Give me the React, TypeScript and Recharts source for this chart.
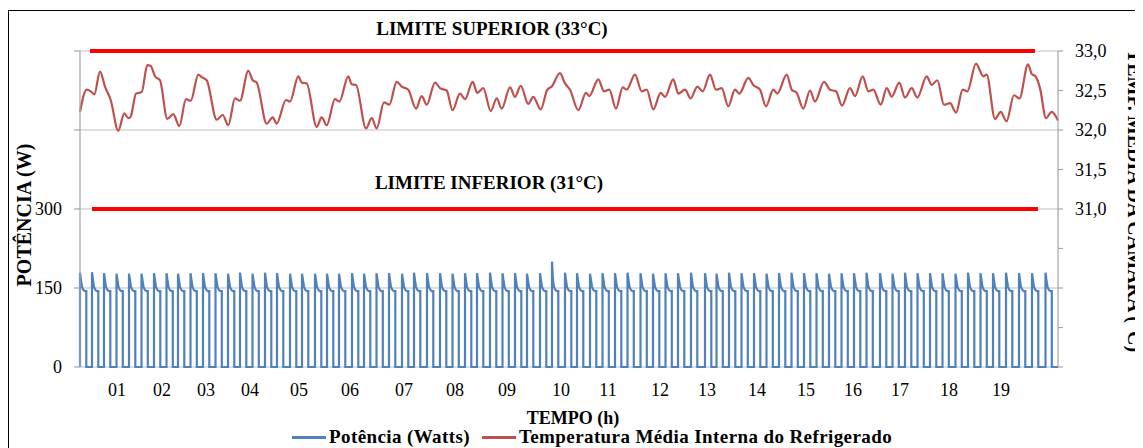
import { ComposedChart, Line, XAxis, YAxis, CartesianGrid, ReferenceLine, Legend } from 'recharts';

// rótulos do eixo do tempo e o registro em que cada hora cai
const horas = ['01', '02', '03', '04', '05', '06', '07', '08', '09', '10', '11', '12', '13', '14', '15', '16', '17', '18', '19'];
const registroHora = [37, 82, 126, 170, 219, 270, 324, 375, 427, 481, 528, 580, 627, 677, 726, 773, 820, 869, 921];
const ultimoRegistro = 978;

// início de cada ciclo do compressor (registro) e pico de potência (W)
const inicioCiclo = [
  0, 12, 24, 36.5, 49, 61.5, 74, 86.5, 98, 110.5, 123, 135.5, 148, 160, 172.5, 185, 197, 210, 222, 235,
  247, 259, 272, 284, 296.5, 309, 322, 334, 347, 360, 372.5, 385, 397, 410, 422.5, 435, 447, 460, 472, 485,
  497, 510, 522.5, 535, 547.5, 560.5, 573, 585.5, 598, 611, 625, 636.5, 649, 661.5, 674, 686.5, 699, 711.5,
  724, 736.5, 749, 761.5, 774, 786.5, 800, 812.5, 825, 837.5, 850, 862.5, 875.5, 888, 900.5, 913, 926, 939,
  952, 965.5,
];
const picoCiclo = [
  179, 180, 178, 177, 177, 177, 178, 178, 177, 178, 178, 178, 177, 179, 177, 179, 178, 177, 177, 177,
  177, 177, 178, 177, 178, 178, 177, 179, 178, 178, 177, 178, 178, 179, 178, 178, 177, 178, 200, 179,
  178, 177, 178, 178, 179, 178, 177, 178, 178, 179, 178, 177, 179, 178, 178, 177, 178, 179, 178, 178,
  177, 178, 178, 179, 178, 177, 179, 178, 178, 178, 177, 179, 178, 178, 179, 178, 178, 179,
];
// queda após a partida: deslocamento (registros) e potência (W)
const quedaDesloc = [1, 2, 3.5, 5];
const quedaWatts = [165, 152, 146, 144];
const duracaoLigado = 6.3;

// temperatura média interna [registro, °C]
const temperatura: [number, number][] = [
  [0, 32.23], [6.7, 32.51], [11.7, 32.48], [14.3, 32.45], [20, 32.74], [25, 32.55], [30.7, 32.38], [38.3, 31.99],
  [44.3, 32.21], [48.3, 32.15], [50.7, 32.17], [56, 32.46], [61.7, 32.48], [67.3, 32.82], [70.7, 32.81], [75, 32.68],
  [80, 32.63], [87.3, 32.14], [93.3, 32.2], [99.3, 32.05], [106, 32.39], [110.7, 32.37], [118.3, 32.7], [121.7, 32.67],
  [126.7, 32.63], [136.7, 32.13], [142.7, 32.19], [148.3, 32.06], [155, 32.4], [160, 32.37], [168.3, 32.75], [172.7, 32.63],
  [176.7, 32.6], [186.7, 32.08], [192.7, 32.16], [196.7, 32.08], [206, 32.38], [210, 32.36], [218.3, 32.68], [221.7, 32.6],
  [226.7, 32.59], [236.7, 32.04], [241.7, 32.16], [246.7, 32.06], [255, 32.39], [259.3, 32.36], [268.3, 32.68], [271.7, 32.58],
  [276, 32.57], [286, 32.02], [291.7, 32.15], [296.7, 32.02], [304, 32.35], [309.3, 32.32], [316.7, 32.61], [321.7, 32.55],
  [328.3, 32.51], [336, 32.27], [341.7, 32.43], [346.7, 32.32], [355, 32.6], [360, 32.53], [366.7, 32.5], [372.5, 32.25],
  [380, 32.46], [385, 32.39], [392.7, 32.61], [397.3, 32.47], [403.3, 32.53], [410.7, 32.24], [416.7, 32.4], [421.7, 32.27],
  [430, 32.54], [435, 32.42], [440.7, 32.56], [448.3, 32.33], [453.3, 32.42], [460.7, 32.26], [467.3, 32.51], [471.7, 32.55],
  [480, 32.72], [485, 32.59], [490, 32.51], [498.3, 32.25], [506, 32.47], [509.3, 32.43], [518.3, 32.64], [524, 32.49],
  [529.3, 32.51], [536, 32.27], [542.7, 32.54], [546.7, 32.51], [555, 32.7], [561.7, 32.49], [566.7, 32.51], [573.3, 32.26],
  [580.7, 32.47], [585, 32.42], [593.3, 32.64], [598.3, 32.46], [605, 32.51], [610.7, 32.4], [617.3, 32.55], [622.7, 32.49],
  [630, 32.7], [636, 32.51], [641.7, 32.53], [648.3, 32.3], [655, 32.51], [659.3, 32.46], [668.3, 32.66], [673.3, 32.57],
  [680, 32.51], [686, 32.3], [693.3, 32.51], [697.3, 32.46], [706.7, 32.7], [711.7, 32.51], [716.7, 32.47], [723.3, 32.27],
  [730, 32.5], [735, 32.36], [744, 32.61], [750, 32.51], [756, 32.49], [762, 32.31], [770, 32.53], [775, 32.43],
  [782.7, 32.68], [788.3, 32.49], [793.3, 32.51], [800.7, 32.32], [806.7, 32.53], [811.7, 32.42], [819.3, 32.6], [825, 32.41],
  [831.7, 32.53], [837.3, 32.41], [846.7, 32.68], [851.7, 32.57], [857.3, 32.63], [864, 32.32], [870, 32.34], [876, 32.22],
  [882.7, 32.51], [887.3, 32.49], [896, 32.84], [903.3, 32.68], [906.7, 32.7], [915, 32.14], [920.7, 32.23], [926.5, 32.11],
  [934, 32.44], [939.5, 32.4], [948, 32.83], [951.7, 32.71], [955.5, 32.68], [960, 32.53], [966, 32.15], [971.7, 32.23],
  [978, 32.12],
];

// limites de temperatura e trecho (registros) em que são traçados
const limiteSuperior = 33;
const limiteInferior = 31;
const trechoSuperior = [10, 955];
const trechoInferior = [12, 958];

const potenciaData: { reg: number; w: number }[] = [];
inicioCiclo.forEach((ini, i) => {
  potenciaData.push({ reg: ini, w: 0 });
  potenciaData.push({ reg: ini, w: picoCiclo[i] });
  quedaDesloc.forEach((d, k) => potenciaData.push({ reg: ini + d, w: quedaWatts[k] }));
  potenciaData.push({ reg: ini + duracaoLigado, w: quedaWatts[quedaWatts.length - 1] });
  potenciaData.push({ reg: ini + duracaoLigado, w: 0 });
});
potenciaData.push({ reg: ultimoRegistro, w: 0 });

const temperaturaData = temperatura.map(([reg, t]) => ({ reg, t }));

const FONTE = '"Liberation Serif", "Times New Roman", serif';
const AZUL = '#4F81BD';
const VERMELHO = '#C0504D';
const GRADE = '#BFBFBF';

// texto solto (títulos e rótulos dos limites); "giro" em graus
function Titulo(props: any) {
  const { px, py, giro = 0, texto, tam = 18 } = props;
  return (
    <text
      x={px}
      y={py}
      transform={giro ? `rotate(${giro} ${px} ${py})` : undefined}
      textAnchor="middle"
      dominantBaseline="central"
      fontFamily={FONTE}
      fontSize={tam}
      fontWeight="bold"
      fill="#000"
    >
      {texto}
    </text>
  );
}

function Legenda(props: any) {
  const { payload = [] } = props;
  const estiloTexto = { fontFamily: FONTE, fontWeight: 700, fontSize: 19, color: '#000', letterSpacing: 0.4 };
  return (
    <div style={{ display: 'flex', alignItems: 'center', whiteSpace: 'nowrap', ...estiloTexto }}>
      {payload.map((item: any) => (
        <span key={item.value} style={{ display: 'flex', alignItems: 'center', marginRight: 12, ...estiloTexto }}>
          <span style={{ display: 'inline-block', width: 34, height: 3, background: item.color, marginRight: 3 }} />
          <span style={estiloTexto}>{item.value}</span>
        </span>
      ))}
    </div>
  );
}

export default function App() {
  return (
    <div style={{ position: 'relative', width: 1135, height: 440, overflow: 'hidden', background: '#fff' }}>
      <div style={{ position: 'absolute', left: 0, top: 2, width: 1160, height: 460, border: '1.5px solid #000', boxSizing: 'border-box' }} />
      <ComposedChart width={1135} height={440} margin={{ top: 43, right: 0, bottom: 0, left: 0 }}>
        <CartesianGrid yAxisId="pot" vertical={false} stroke={GRADE} strokeWidth={1.2} />
        <XAxis
          dataKey="reg"
          type="number"
          domain={[0, ultimoRegistro]}
          ticks={registroHora}
          tickFormatter={(v: number) => horas[registroHora.indexOf(v)]}
          allowDuplicatedCategory
          axisLine={false}
          tickLine={false}
          tickSize={0}
          tickMargin={16}
          height={81}
          tick={{ fontFamily: FONTE, fontSize: 18, fill: '#000' }}
          label={<Titulo px={565} py={410} texto="TEMPO (h)" tam={18} />}
        />
        <YAxis
          yAxisId="pot"
          domain={[0, 600]}
          ticks={[0, 150, 300, 450, 600]}
          tickFormatter={(v: number) => (v <= 300 ? String(v) : '')}
          width={72}
          axisLine={{ stroke: '#A6A6A6', strokeWidth: 1.2 }}
          tickLine={{ stroke: '#A6A6A6', strokeWidth: 1.2 }}
          tickSize={6}
          tickMargin={12}
          tick={{ fontFamily: FONTE, fontSize: 18, fill: '#000' }}
          label={<Titulo px={16} py={207} giro={-90} texto="POTÊNCIA (W)" tam={20} />}
        />
        <YAxis
          yAxisId="temp"
          orientation="right"
          domain={[29, 33]}
          ticks={[29, 29.5, 30, 30.5, 31, 31.5, 32, 32.5, 33]}
          tickFormatter={(v: number) => (v >= 31 ? v.toFixed(1).replace('.', ',') : '')}
          width={85}
          axisLine={{ stroke: '#A6A6A6', strokeWidth: 1.2 }}
          tickLine={{ stroke: '#A6A6A6', strokeWidth: 1.2 }}
          tickSize={5}
          tickMargin={12}
          tick={{ fontFamily: FONTE, fontSize: 18, fill: '#000' }}
          label={<Titulo px={1127} py={193} giro={90} texto="TEMP. MÉDIA DA CÂMARA (°C)" tam={20} />}
        />
        <ReferenceLine
          yAxisId="temp"
          segment={[{ x: trechoSuperior[0], y: limiteSuperior }, { x: trechoSuperior[1], y: limiteSuperior }]}
          stroke="#FF0000"
          strokeWidth={4}
          ifOverflow="visible"
          label={<Titulo px={484} py={20} texto="LIMITE SUPERIOR (33°C)" tam={19} />}
        />
        <ReferenceLine
          yAxisId="temp"
          segment={[{ x: trechoInferior[0], y: limiteInferior }, { x: trechoInferior[1], y: limiteInferior }]}
          stroke="#FF0000"
          strokeWidth={4}
          ifOverflow="visible"
          label={<Titulo px={481} py={174} texto="LIMITE INFERIOR (31°C)" tam={19} />}
        />
        <Line
          yAxisId="pot"
          data={potenciaData}
          dataKey="w"
          name="Potência (Watts)"
          type="linear"
          stroke={AZUL}
          strokeWidth={2.2}
          dot={false}
          activeDot={false}
          isAnimationActive={false}
        />
        <Line
          yAxisId="temp"
          data={temperaturaData}
          dataKey="t"
          name="Temperatura Média Interna do Refrigerado"
          type="monotone"
          stroke={VERMELHO}
          strokeWidth={2.2}
          dot={false}
          activeDot={false}
          isAnimationActive={false}
        />
        <Legend
          layout="horizontal"
          verticalAlign="middle"
          align="center"
          content={<Legenda />}
          wrapperStyle={{ top: 418, left: 284, width: 'auto' }}
        />
      </ComposedChart>
    </div>
  );
}
